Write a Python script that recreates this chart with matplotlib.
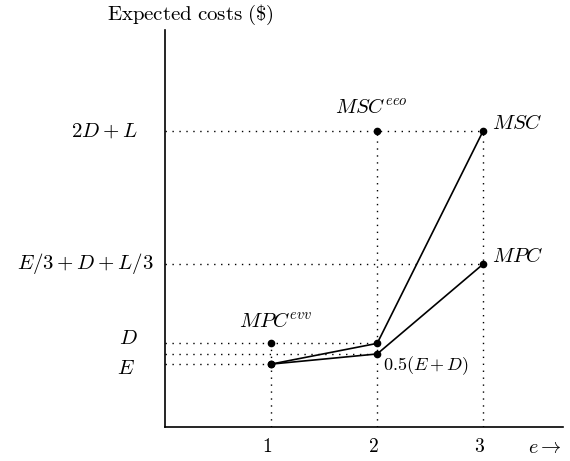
import matplotlib
matplotlib.use("Agg")
import matplotlib.pyplot as plt

plt.rcParams['mathtext.fontset'] = 'cm'
plt.rcParams['font.family'] = 'serif'
plt.rcParams['font.serif'] = ['DejaVu Serif']

# effort levels and cost levels (arbitrary units)
e_levels = [1, 2, 3]
E = 0.594
D = 0.79
half_ED = 0.69
mpc_top = 1.54
msc_top = 2.80

msc = [E, D, msc_top]
mpc = [E, half_ED, mpc_top]

ylabels = [r'$2D+L$', r'$E/3+D+L/3$', r'$D$', r'$E$']

fig = plt.figure(figsize=(5.7, 4.61), dpi=100)
ax = fig.add_axes([0.2895, 0.0738, 0.698, 0.861])
ax.set_xlim(0, 3.75)
ax.set_ylim(0, 3.75)

dot = dict(color='black', lw=1.0, ls=(0, (1, 4)))

# horizontal guides
ax.plot([0, 3], [msc_top, msc_top], **dot)
ax.plot([0, 3], [mpc_top, mpc_top], **dot)
ax.plot([0, 2], [D, D], **dot)
ax.plot([0, 2], [half_ED, half_ED], **dot)
ax.plot([0, 1], [E, E], **dot)
# vertical guides
ax.plot([1, 1], [0, D], **dot)
ax.plot([2, 2], [0, msc_top], **dot)
ax.plot([3, 3], [0, msc_top], **dot)

ax.plot(e_levels, msc, color='black', lw=1.2, marker='o', ms=4.5)
ax.plot(e_levels, mpc, color='black', lw=1.2, marker='o', ms=4.5)
ax.plot([1, 2], [D, msc_top], ls='none', marker='o', ms=4.5, color='black')

fs = 15
ax.text(3.08, msc_top + 0.07, r'$MSC$', fontsize=fs, va='center', ha='left')
ax.text(3.08, mpc_top + 0.07, r'$MPC$', fontsize=fs, va='center', ha='left')
ax.text(1.95, msc_top + 0.13, r'$MSC^{eeo}$', fontsize=fs, va='bottom', ha='center')
ax.text(1.04, D + 0.12, r'$MPC^{evv}$', fontsize=fs, va='bottom', ha='center')
ax.text(2.05, half_ED - 0.11, r'$0.5(E+D)$', fontsize=13, va='center', ha='left')

# y-axis labels
ax.text(-0.26, msc_top, ylabels[0], fontsize=fs, va='center', ha='right')
ax.text(-0.11, mpc_top, ylabels[1], fontsize=fs, va='center', ha='right')
ax.text(-0.26, D + 0.05, ylabels[2], fontsize=fs, va='center', ha='right')
ax.text(-0.28, E - 0.04, ylabels[3], fontsize=fs, va='center', ha='right')

for x in e_levels:
    ax.text(x - 0.04, -0.19, r'$%d$' % x, fontsize=14, va='center', ha='center')
ax.text(3.58, -0.19, r'$e\rightarrow$', fontsize=14.5, va='center', ha='center')
ax.text(0.24, 3.78, r'$\mathrm{Expected\ costs\ (\$)}$', fontsize=15,
        va='bottom', ha='center')

for s in ['top', 'right']:
    ax.spines[s].set_visible(False)
for s in ['left', 'bottom']:
    ax.spines[s].set_linewidth(1.2)
ax.set_xticks([])
ax.set_yticks([])

fig.savefig('out.png', dpi=100)
